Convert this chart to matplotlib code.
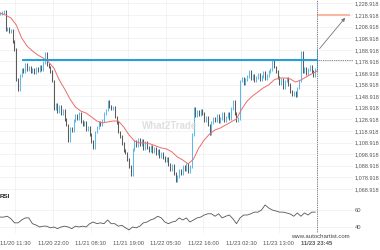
import matplotlib.pyplot as plt
import numpy as np

plt.rcParams['font.family'] = ['Liberation Sans', 'DejaVu Sans']

# half-hour closes, first bar 11/20 07:15
closes = [1220, 1221, 1222, 1206, 1207, 1205, 1206, 1196, 1189, 1163,
          1155, 1167, 1172, 1170, 1176, 1172, 1174, 1170, 1172, 1169,
          1173, 1171, 1175, 1172, 1178, 1186, 1176, 1174, 1170, 1162,
          1138, 1142, 1136, 1140, 1134, 1137, 1129, 1124, 1111, 1121,
          1119, 1128, 1132, 1130, 1134, 1127, 1124, 1126, 1120, 1122,
          1116, 1110, 1105, 1118, 1122, 1126, 1124, 1128, 1134, 1137,
          1144, 1140, 1138, 1139, 1131, 1126, 1118, 1114, 1108, 1102,
          1100, 1094, 1088, 1081, 1103, 1110, 1106, 1112, 1107, 1111,
          1104, 1109, 1105, 1102, 1106, 1101, 1104, 1099, 1102, 1097,
          1100, 1096, 1093, 1095, 1090, 1086, 1089, 1082, 1076, 1080,
          1085, 1082, 1088, 1086, 1090, 1084, 1088, 1116, 1138, 1132,
          1136, 1133, 1137, 1134, 1128, 1131, 1124, 1117, 1126, 1130,
          1128, 1132, 1127, 1130, 1134, 1128, 1131, 1134, 1130, 1138,
          1144, 1134, 1128, 1130, 1162, 1164, 1160, 1163, 1166, 1170,
          1164, 1167, 1162, 1165, 1168, 1163, 1166, 1169, 1164, 1167,
          1170, 1172, 1180, 1174, 1170, 1165, 1160, 1163, 1156, 1162,
          1164, 1159, 1153, 1150, 1152, 1149, 1156, 1162, 1187, 1170,
          1173, 1168, 1172, 1175, 1170, 1167, 1172, 1188]

# moving average, every 3rd bar
ma_vals = [1220.6, 1218.9, 1216.3, 1210.3, 1199.1, 1192.2, 1187.9, 1184.4, 1181.8, 1178.4,
           1173.2, 1162.9, 1155.1, 1146.5, 1139.6, 1136.1, 1134.4, 1131.0, 1127.5, 1125.8,
           1126.7, 1127.5, 1127.5, 1122.4, 1115.5, 1110.3, 1108.6, 1108.6, 1107.7, 1106.0,
           1104.3, 1103.4, 1100.8, 1096.5, 1093.9, 1090.5, 1094.7, 1104.3, 1111.2, 1116.3,
           1119.8, 1121.5, 1124.1, 1126.7, 1129.3, 1137.9, 1144.8, 1149.1, 1152.6, 1156.1,
           1158.6, 1163.0, 1164.6, 1164.6, 1163.8, 1161.1, 1162.9, 1165.5, 1168.1, 1170.6]

# RSI, every 2nd bar
rsi_vals = [52, 52, 53, 50, 45, 45, 48.5, 51, 51, 44,
            42.4, 40, 41, 41, 39, 40, 38, 40, 41, 40,
            38, 41, 40, 41, 40, 44, 46, 44, 45, 44,
            48.5, 44, 44, 41, 42, 39, 36.5, 40, 39, 41,
            45, 46, 48.5, 50, 53, 51, 46, 44, 46, 47,
            51, 48.5, 51, 46, 48.5, 51, 52, 54.5, 56, 56,
            53, 56, 51, 53, 54.5, 50, 44, 51, 54.5, 54.5,
            56, 58, 58, 60.6, 66.7, 63, 60.6, 59.4, 58, 58,
            57, 55.8, 53, 57, 53, 57, 54.5, 58, 58]

t0 = 7.25      # hours after 11/20 00:00
step = 0.5
tick_hours = [11.5, 22, 32.5, 43, 53.5, 64, 74.5, 85, 95.75]
tick_labels = ['11/20 11:30', '11/20 22:00', '11/21 08:30', '11/21 19:00', '11/22 05:30',
               '11/22 16:00', '11/23 02:30', '11/23 13:00', '11/23 23:45']
price_ticks = [1068.918 + 10 * k for k in range(17)]
level = 1180.0
level_start = 13.3
target = 1218.9
now = 95.75

W, H = 380, 250
fig = plt.figure(figsize=(3.8, 2.5), dpi=100)
ax = fig.add_axes([0, 1 - 192 / H, 353 / W, 192 / H])
ax2 = fig.add_axes([0, 1 - 233 / H, 353 / W, 41 / H])

closes = np.array(closes, dtype=float)
t = t0 + step * np.arange(len(closes))
opens = np.concatenate([[closes[0]], closes[:-1]])
lo = np.minimum(opens, closes) - 1.2
hi = np.maximum(opens, closes) + 1.2
up = closes >= opens
ax.vlines(t[up], lo[up], hi[up], color='#5cbbea', lw=0.75)
ax.vlines(t[~up], lo[~up], hi[~up], color='#5b5b5b', lw=0.75)

ax.plot(t[::3], ma_vals, color='#f06a6a', lw=0.7)
ax.hlines(level, level_start, now, color='#1e9fdc', lw=1.4)
ax.hlines(level, now, 105.8, color='#445566', lw=0.6, linestyles=(0, (1, 1.2)))
ax.hlines(target, now, 104.96, color='#f7b9a2', lw=1.5)
ax.annotate('', xy=(104.1, target - 0.5), xytext=(now + 0.2, closes[-1]),
            arrowprops=dict(arrowstyle='-|>', color='#777777', lw=0.6, mutation_scale=5))
ax.axvline(now, color='#445566', lw=0.6, ls=(0, (1, 1.2)))
ax2.axvline(now, color='#445566', lw=0.6, ls=(0, (1, 1.2)))

ax.text(0.48, 0.344, 'What2Trade', transform=ax.transAxes, ha='center', va='center',
        fontsize=7, fontweight='bold', color='#d8d8d8', alpha=0.8)

ax.set_xlim(7.2, 105.8)
ax.set_ylim(1066.3, 1231.85)
ax.set_yticks(price_ticks)
ax.set_yticklabels(['{:,.3f}'.format(p) for p in price_ticks])
ax.yaxis.tick_right()
ax.set_xticks(tick_hours)
ax.set_xticklabels([])
ax.tick_params(length=0, labelsize=4.0, labelcolor='#555555', pad=1.0)
ax.grid(color='#eeeeee', lw=0.5)

ax2.plot(t0 + 2 * step * np.arange(len(rsi_vals)), rsi_vals, color='#555555', lw=0.6)
ax2.set_xlim(7.2, 105.8)
ax2.set_ylim(32.7, 82.4)
ax2.set_yticks([40, 60])
ax2.yaxis.tick_right()
ax2.set_xticks(tick_hours)
ax2.set_xticklabels(tick_labels)
ax2.get_xticklabels()[-1].set_fontweight('bold')
ax2.tick_params(length=0, labelsize=4.2, labelcolor='#555555', pad=1.0)
ax2.tick_params(axis='x', pad=5.5)
ax2.grid(color='#eeeeee', lw=0.5)
ax2.text(0.0, 0.88, 'RSI', transform=ax2.transAxes, fontsize=4.5, fontweight='bold',
         va='center', color='#222222')

for a in (ax, ax2):
    for s in a.spines.values():
        s.set_visible(False)
    a.set_facecolor('none')

fig.text(350 / W, 1 - 236 / H, 'www.autochartist.com', ha='right', va='center',
         fontsize=4.3, color='#444444')

fig.savefig('out.png', dpi=100)
